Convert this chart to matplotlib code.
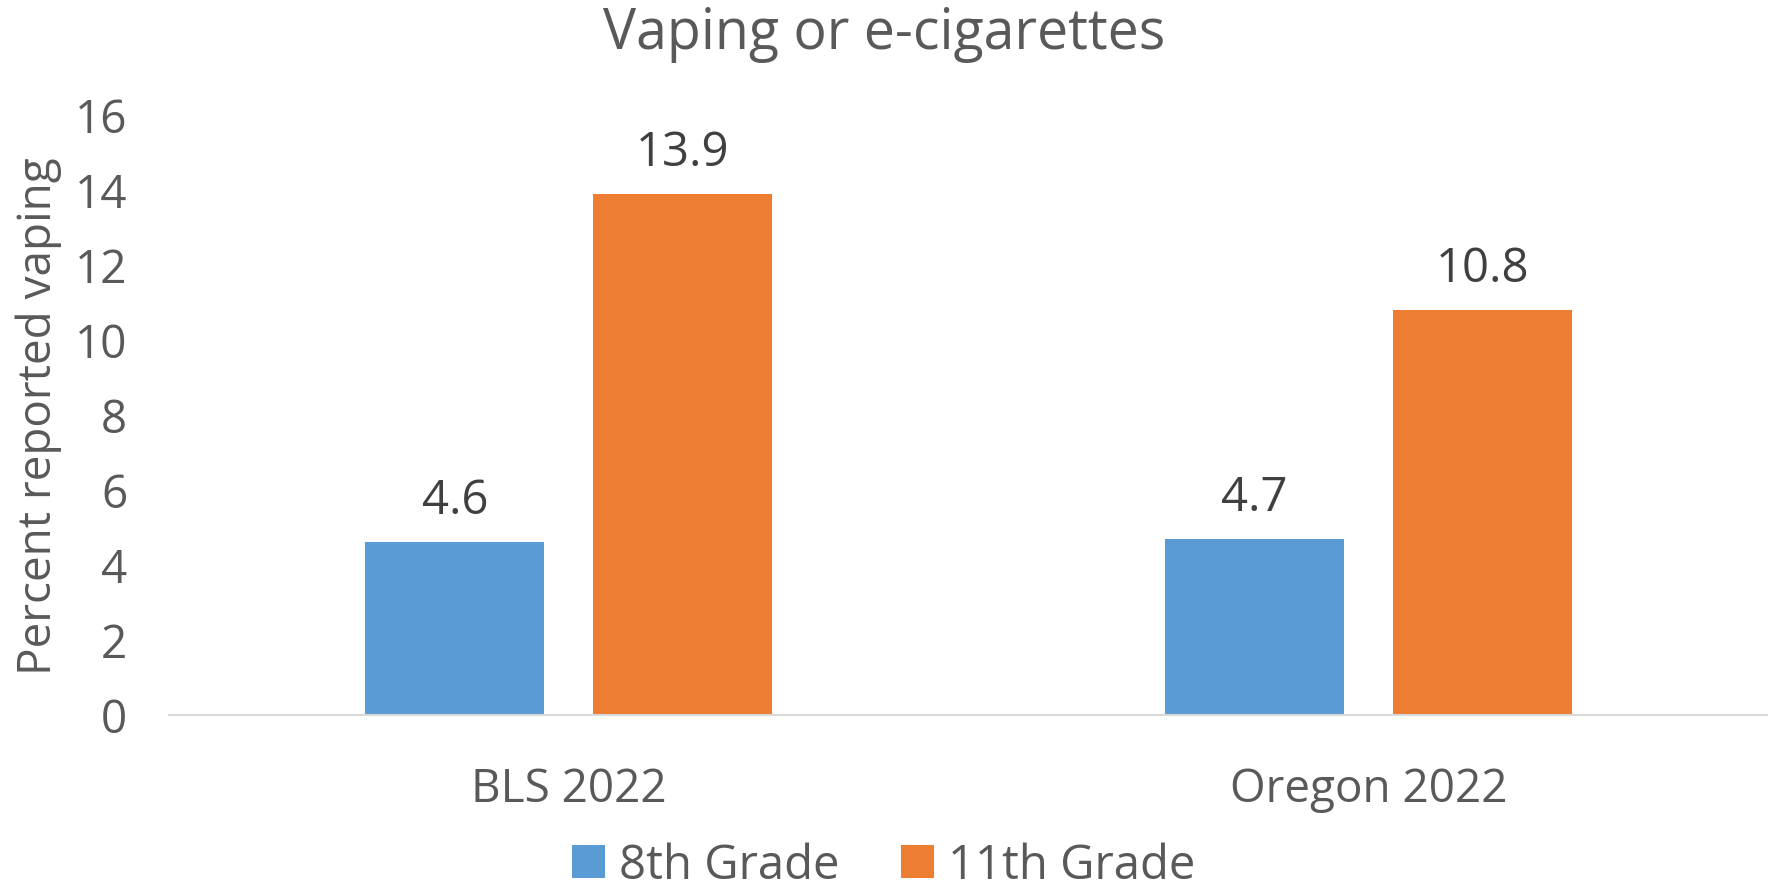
import numpy as np
import matplotlib.pyplot as plt

plt.rcParams['font.family'] = ['Open Sans', 'DejaVu Sans']

# data
categories = ['BLS 2022', 'Oregon 2022']
series_names = ['8th Grade', '11th Grade']
grade8 = [4.6, 4.7]
grade11 = [13.9, 10.8]
colors = ['#5b9bd5', '#ed7d31']

fig = plt.figure(figsize=(17.68, 8.95), dpi=100)
ax = fig.add_axes([0.0956, 0.2, 0.9044, 0.6704])

x = np.arange(len(categories))
w = 0.224
off = 0.1425
b1 = ax.bar(x - off, grade8, w, color=colors[0], label=series_names[0])
b2 = ax.bar(x + off, grade11, w, color=colors[1], label=series_names[1])

for bars in (b1, b2):
    for rect in bars:
        ax.annotate(f'{rect.get_height():.1f}',
                    (rect.get_x() + rect.get_width() / 2, rect.get_height()),
                    xytext=(0, 13), textcoords='offset points',
                    ha='center', va='bottom', fontsize=34, color='#404040')

ax.set_xlim(-0.5, 1.5)
ax.set_ylim(0, 16)
ax.set_yticks(range(0, 17, 2))
ax.set_xticks(x)
ax.set_xticklabels(categories)
ax.tick_params(axis='both', length=0, labelsize=33, labelcolor='#595959')
ax.tick_params(axis='x', pad=37)
ax.tick_params(axis='y', pad=30)

for s in ['top', 'right', 'left']:
    ax.spines[s].set_visible(False)
ax.spines['bottom'].set_color('#d9d9d9')
ax.spines['bottom'].set_linewidth(1.5)

ax.set_ylabel('Percent reported vaping', fontsize=33, color='#595959', labelpad=9)
fig.text(0.5, 0.945, 'Vaping or e-cigarettes', fontsize=40, color='#595959',
         ha='center', va='baseline')

fig.legend(loc='lower center', bbox_to_anchor=(0.5, -0.042), ncol=2, frameon=False,
           fontsize=34, labelcolor='#595959', handlelength=0.7, handleheight=0.7,
           handletextpad=0.3, columnspacing=1.3)

fig.savefig('out.png', dpi=100)
